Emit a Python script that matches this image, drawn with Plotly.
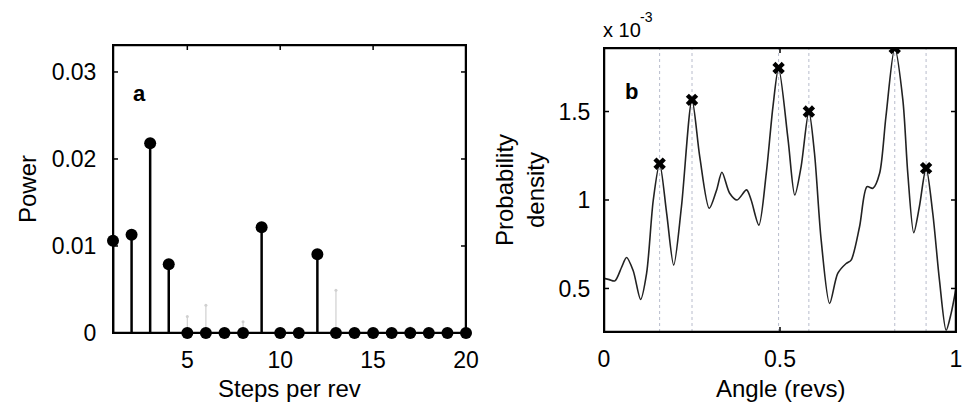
import plotly.graph_objects as go

# ---------------- data ----------------
steps = list(range(1, 21))
power = [0.0106, 0.0113, 0.0218, 0.0079, 0, 0, 0, 0, 0.01215, 0, 0, 0.00904,
         0, 0, 0, 0, 0, 0, 0, 0]
power_grey = [0, 0, 0, 0, 0.0019, 0.0032, 0, 0.0013, 0, 0, 0, 0,
              0.0049, 0, 0, 0, 0.0006, 0, 0, 0]

angle = [0.0, 0.015, 0.031, 0.050, 0.064, 0.083, 0.104, 0.121, 0.140, 0.158,
         0.178, 0.198, 0.220, 0.250, 0.272, 0.299, 0.320, 0.335, 0.357, 0.378,
         0.405, 0.418, 0.440, 0.461, 0.480, 0.496, 0.523, 0.542, 0.560, 0.582,
         0.598, 0.617, 0.641, 0.664, 0.688, 0.702, 0.726, 0.747, 0.764, 0.783,
         0.801, 0.826, 0.849, 0.863, 0.880, 0.896, 0.915, 0.934, 0.953, 0.972,
         0.986, 1.0]
density_e3 = [0.557, 0.550, 0.543, 0.620, 0.675, 0.600, 0.438, 0.585, 1.000, 1.205,
              0.925, 0.632, 0.962, 1.566, 1.245, 0.953, 1.057, 1.157, 1.038, 1.000,
              1.057, 1.000, 0.858, 1.151, 1.528, 1.746, 1.340, 1.028, 1.189, 1.500,
              1.264, 0.773, 0.415, 0.585, 0.641, 0.660, 0.849, 1.075, 1.066, 1.151,
              1.472, 1.859, 1.566, 1.151, 0.815, 0.962, 1.180, 0.925, 0.547, 0.264,
              0.358, 0.500]
peak_angle = [0.158, 0.250, 0.496, 0.582, 0.826, 0.915]
peak_density_e3 = [1.205, 1.566, 1.746, 1.500, 1.859, 1.180]

# tick values / labels
ticks_steps = [5, 10, 15, 20]
ticks_power = [0, 0.01, 0.02, 0.03]
ticklabels_power = ["0", "0.01", "0.02", "0.03"]
ticks_angle = [0, 0.5, 1]
ticklabels_angle = ["0", "0.5", "1"]
ticks_density = [0.5, 1, 1.5]
ticklabels_density = ["0.5", "1", "1.5"]

FONT = "Liberation Sans, Arial, sans-serif"
W, H = 963, 404

# axis boxes in pixels: x0, x1, ytop, ybottom
L1 = (113, 466, 45, 333)
L2 = (604, 956, 48, 332)
xr1, yr1 = [1, 20], [0, 0.0331]
xr2, yr2 = [0, 1], [0.254, 1.859]

fig = go.Figure()

# grey background stems
gx, gy = [], []
for s, v in zip(steps, power_grey):
    if v > 0:
        gx += [s, s, None]
        gy += [0, v, None]
fig.add_trace(go.Scatter(x=gx, y=gy, mode="lines", line=dict(color="#d0d0d0", width=1.2),
                         xaxis="x", yaxis="y", showlegend=False, hoverinfo="skip"))
fig.add_trace(go.Scatter(x=[s for s, v in zip(steps, power_grey) if v > 0],
                         y=[v for v in power_grey if v > 0], mode="markers",
                         marker=dict(color="#d0d0d0", size=3),
                         xaxis="x", yaxis="y", showlegend=False, hoverinfo="skip"))

# right panel: dotted vertical lines at peaks
vx, vy = [], []
for a in peak_angle:
    vx += [a, a, None]
    vy += [yr2[0], yr2[1], None]
fig.add_trace(go.Scatter(x=vx, y=vy, mode="lines",
                         line=dict(color="#b8bccc", width=1, dash="dot"),
                         xaxis="x2", yaxis="y2", showlegend=False, hoverinfo="skip"))

fig.add_trace(go.Scatter(x=angle, y=density_e3, mode="lines",
                         line=dict(color="#222222", width=1.6, shape="spline", smoothing=0.8),
                         xaxis="x2", yaxis="y2", showlegend=False))
fig.add_trace(go.Scatter(x=peak_angle, y=peak_density_e3, mode="markers",
                         marker=dict(symbol="x", color="black", size=11,
                                     line=dict(width=0)),
                         xaxis="x2", yaxis="y2", showlegend=False))


# frame and inward ticks drawn as line traces on each subplot (after the curves)
def frame_and_ticks(xr, yr, box, xt, yt, xa, ya, ticklen=5):
    x0, x1, ytp, ybp = box
    dx = (xr[1] - xr[0]) / (x1 - x0) * ticklen
    dy = (yr[1] - yr[0]) / (ybp - ytp) * ticklen
    tx, ty = [], []
    for v in xt:
        tx += [v, v, None, v, v, None]
        ty += [yr[0], yr[0] + dy, None, yr[1], yr[1] - dy, None]
    for v in yt:
        tx += [xr[0], xr[0] + dx, None, xr[1], xr[1] - dx, None]
        ty += [v, v, None, v, v, None]
    fig.add_trace(go.Scatter(x=tx, y=ty, mode="lines", line=dict(color="black", width=1.5),
                             xaxis=xa, yaxis=ya, showlegend=False, hoverinfo="skip"))
    fx = [xr[0], xr[1], xr[1], xr[0], xr[0]]
    fy = [yr[0], yr[0], yr[1], yr[1], yr[0]]
    fig.add_trace(go.Scatter(x=fx, y=fy, mode="lines", line=dict(color="black", width=2.5),
                             xaxis=xa, yaxis=ya, showlegend=False, hoverinfo="skip"))


frame_and_ticks(xr1, yr1, L1, ticks_steps, ticks_power, "x", "y")
frame_and_ticks(xr2, yr2, L2, ticks_angle, ticks_density, "x2", "y2")

# black stems (on top of the frame)
sx, sy = [], []
for s, v in zip(steps, power):
    sx += [s, s, None]
    sy += [0, v, None]
fig.add_trace(go.Scatter(x=sx, y=sy, mode="lines", line=dict(color="black", width=2.5),
                         xaxis="x", yaxis="y", showlegend=False, cliponaxis=False))
fig.add_trace(go.Scatter(x=steps, y=power, mode="markers",
                         marker=dict(color="black", size=12),
                         xaxis="x", yaxis="y", showlegend=False, cliponaxis=False))

# frame also as paper shapes around the plot areas
shapes = []
for (x0, x1, ytp, ybp) in (L1, L2):
    shapes.append(dict(type="rect", xref="paper", yref="paper",
                       x0=x0 / W, x1=x1 / W, y0=1 - ybp / H, y1=1 - ytp / H,
                       line=dict(color="black", width=1.5), fillcolor="rgba(0,0,0,0)",
                       layer="above"))


def ax(**kw):
    d = dict(showline=True, linecolor="black", linewidth=1, mirror=True,
             ticks="", showgrid=False, zeroline=False, automargin=False,
             ticklabeloverflow="allow",
             tickfont=dict(family=FONT, size=23, color="black"))
    d.update(kw)
    return d


fig.update_layout(
    width=W, height=H,
    margin=dict(l=0, r=0, t=0, b=0),
    paper_bgcolor="white", plot_bgcolor="rgba(0,0,0,0)",
    font=dict(family=FONT, color="black"),
    shapes=shapes,
    xaxis=ax(domain=[L1[0] / W, L1[1] / W], range=xr1, anchor="y",
             tickvals=ticks_steps, ticklabelstandoff=6),
    yaxis=ax(domain=[1 - L1[3] / H, 1 - L1[2] / H], range=yr1, anchor="x",
             tickvals=ticks_power, ticktext=ticklabels_power, ticklabelstandoff=11),
    xaxis2=ax(domain=[L2[0] / W, L2[1] / W], range=xr2, anchor="y2",
              tickvals=ticks_angle, ticktext=ticklabels_angle, ticklabelstandoff=6),
    yaxis2=ax(domain=[1 - L2[3] / H, 1 - L2[2] / H], range=yr2, anchor="x2",
              tickvals=ticks_density, ticktext=ticklabels_density, ticklabelstandoff=8),
)

ann = [
    dict(text="<b>a</b>", x=2.45, y=0.0275, xref="x", yref="y", showarrow=False,
         font=dict(size=22, family=FONT), xanchor="center", yanchor="middle"),
    dict(text="<b>b</b>", x=0.078, y=1.613, xref="x2", yref="y2", showarrow=False,
         font=dict(size=22, family=FONT), xanchor="center", yanchor="middle"),
    dict(text="Power", x=27 / W, y=1 - 189 / H, xref="paper", yref="paper",
         textangle=-90, showarrow=False, font=dict(size=24, family=FONT),
         xanchor="center", yanchor="middle"),
    dict(text="Steps per rev", x=289 / W, y=1 - 388 / H, xref="paper", yref="paper",
         showarrow=False, font=dict(size=24, family=FONT), xanchor="center", yanchor="middle"),
    dict(text="Probability<br>density", x=520 / W, y=1 - 190 / H, xref="paper",
         yref="paper", textangle=-90, showarrow=False, font=dict(size=24, family=FONT),
         xanchor="center", yanchor="middle"),
    dict(text="Angle (revs)", x=780 / W, y=1 - 388 / H, xref="paper", yref="paper",
         showarrow=False, font=dict(size=24, family=FONT), xanchor="center", yanchor="middle"),
    dict(text="x 10", x=601 / W, y=1 - 30 / H, xref="paper", yref="paper",
         showarrow=False, font=dict(size=20, family=FONT), xanchor="left", yanchor="middle"),
    dict(text="-3", x=638 / W, y=1 - 17 / H, xref="paper", yref="paper",
         showarrow=False, font=dict(size=14, family=FONT), xanchor="left", yanchor="middle"),
]
fig.update_layout(annotations=ann)

fig.write_html("out.html")
